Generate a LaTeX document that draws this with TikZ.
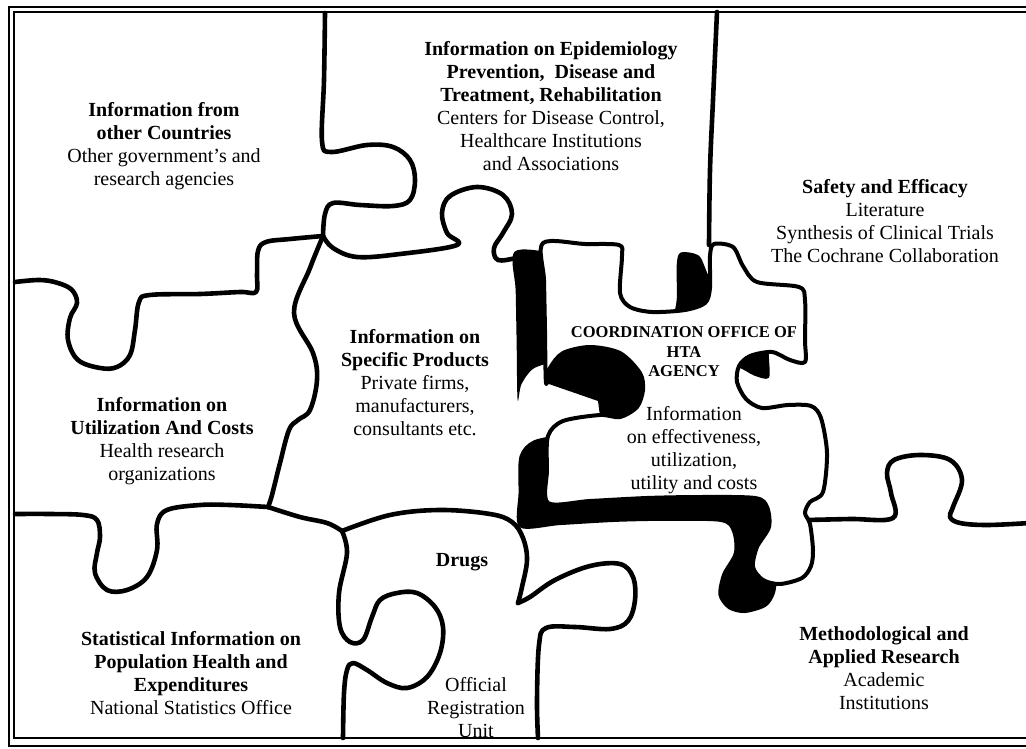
\documentclass[tikz,border=0pt]{standalone}
\usepackage{fontspec}
\setmainfont{Liberation Serif}
\tikzset{
    cut/.style = {
        draw,
        line width=4.6pt,
        line cap=round,
        line join=round
    },
    face/.style = {
        draw,
        fill=white,
        line width=4pt,
        line join=round
    },
    shade/.style = {
        fill=black
    },
    frame/.style = {
        draw,
        line width=1.2pt
    },
    txt/.style = {
        align=center,
        inner sep=0pt,
        font=\fontsize{20}{23}\selectfont
    },
    caps/.style = {
        align=center,
        inner sep=0pt,
        font=\bfseries\fontsize{16.5}{19.5}\selectfont
    },
}
\newcommand{\htaface}{plot[smooth cycle, tension=0.5] coordinates {
    (543,243) (585,244) (619,245) (622,256) (620,293) (630,307) (652,312)
    (685,310) (705,303) (710,288) (710,256) (714,244) (733,247) (743,266)
    (757,282) (799,287) (805,300) (805,340) (805,362) (790,360) (772,352)
    (750,356) (739,366) (737,382) (746,399) (762,408) (788,405) (811,406)
    (821,418) (827,453) (823,492) (810,502) (805,513) (810,524) (813,550)
    (811,566) (802,578) (780,584) (763,580) (753,567) (757,547) (769,527)
    (767,507) (755,498) (700,497) (647,498) (590,501) (548,503) (547,470)
    (548,436) (563,421) (600,415) (620,417) (637,407) (643,390) (640,373)
    (620,353) (590,347) (563,353) (550,368) (546,383) (545,330) (544,280)}}

\begin{document}
\begin{tikzpicture}[x=1pt,y=-1pt]
    \useasboundingbox (0,0) rectangle (1026,749);
    \clip (0,0) rectangle (1026,749);
    \draw[frame, line width=1.8pt] (9,7) rectangle (1040,746);
    \draw[frame] (14,12) rectangle (1040,738);

    % junctions of the cuts
    \coordinate (j1) at (323,236);
    \coordinate (j2) at (268,507);
    \coordinate (j3) at (342,531);
    \coordinate (v1) at (518,603);

    % cuts between the pieces
    \draw[cut] plot[smooth, tension=.6] coordinates {(325,13) (324,80) (322,141) (331,152) (367,145) (393,147) (410,160) (415,180) (410,200) (393,206) (360,205) (333,203) (325,214) (j1)};
    \draw[cut] plot[smooth, tension=.6] coordinates {(j1) (290,239) (266,242) (258,251) (257,275) (256,292) (240,292) (200,294) (150,295) (139,302) (135,330) (130,355) (117,367) (100,368) (78,360) (68,340) (70,318) (77,303) (72,290) (58,283) (40,280) (15,282)};
    \draw[cut] plot[smooth, tension=.6] coordinates {(j1) (333,248) (357,257) (400,254) (457,245) (447,233) (442,213) (450,196) (477,187) (503,195) (512,214) (503,233) (494,248) (498,260) (517,258) (530,256)};
    \draw[cut] plot[smooth, tension=.6] coordinates {(j1) (310,268) (294,313) (313,353) (317,380) (310,410) (298,420) (289,430) (280,463) (272,495) (j2)};
    \draw[cut] plot[smooth, tension=.6] coordinates {(j2) (230,505) (200,505) (167,510) (157,524) (157,550) (147,577) (127,590) (107,590) (95,573) (97,553) (100,537) (97,520) (83,515) (50,514) (15,514)};
    \draw[cut] plot[smooth, tension=.6] coordinates {(j2) (300,517) (327,523) (j3)};
    \draw[cut] plot[smooth, tension=.6] coordinates {(j3) (390,515) (440,510) (490,514) (512,522) (523,538) (527,560) (522,587) (v1)};
    \draw[cut] plot[smooth, tension=.6] coordinates {(v1) (530,597) (555,580) (590,566) (620,564) (633,577) (635,600) (628,621) (610,629) (575,627) (546,628) (539,645) (537,700) (538,738)};
    \draw[cut] plot[smooth, tension=.6] coordinates {(j3) (347,553) (339,593) (340,627) (350,642) (363,640) (372,617) (380,600) (397,593) (417,593) (435,607) (443,627) (440,653) (427,677) (407,688) (387,683) (367,670) (353,663) (347,670) (344,693) (343,738)};
    \draw[cut] plot[smooth, tension=.6] coordinates {(717,12) (713,100) (710,170) (709,245)};
    \draw[cut] plot[smooth, tension=.6] coordinates {(806,520) (850,519) (893,518) (891,493) (887,473) (894,460) (920,455) (950,460) (962,480) (953,507) (950,517) (960,523) (987,525) (1030,523)};

    % the HTA piece with its dark side
    \fill[shade, cm={0.97,0,0,1.06,(-12pt,6pt)}] \htaface;
    \fill[shade] (546,383) -- (598,401) -- plot[smooth, tension=.6] coordinates {(600,416) (620,417) (637,407) (643,390) (640,373) (620,353) (590,347) (563,353) (550,368) (546,383)} -- cycle;
    \draw[face] \htaface;

    \node[txt] (countries) at (164,146) {\textbf{Information from}\\\textbf{other Countries}\\Other government's and\\research agencies};
    \node[txt] (epidemiology) at (551,106) {\textbf{Information on Epidemiology}\\\textbf{Prevention,\ \ Disease and}\\\textbf{Treatment, Rehabilitation}\\Centers for Disease Control,\\Healthcare Institutions\\and Associations};
    \node[txt] (safety) at (885,221) {\textbf{Safety and Efficacy}\\Literature\\Synthesis of Clinical Trials\\The Cochrane Collaboration};
    \node[caps] (office) at (684,352) {COORDINATION OFFICE OF\\HTA\\AGENCY};
    \node[txt] (effectiveness) at (694,450) {Information\\on effectiveness,\\utilization,\\utility and costs};
    \node[txt] (products) at (415,383) {\textbf{Information on}\\\textbf{Specific Products}\\Private firms,\\manufacturers,\\consultants etc.};
    \node[txt] (utilization) at (162,441) {\textbf{Information on}\\\textbf{Utilization And Costs}\\Health research\\organizations};
    \node[txt] (statistics) at (191,673) {\textbf{Statistical Information on}\\\textbf{Population Health and}\\\textbf{Expenditures}\\National Statistics Office};
    \node[txt] (drugs) at (462,562) {\textbf{Drugs}};
    \node[txt] (registration) at (476,708) {Official\\Registration\\Unit};
    \node[txt] (research) at (884,668) {\textbf{Methodological and}\\\textbf{Applied Research}\\Academic\\Institutions};
\end{tikzpicture}
\end{document}
